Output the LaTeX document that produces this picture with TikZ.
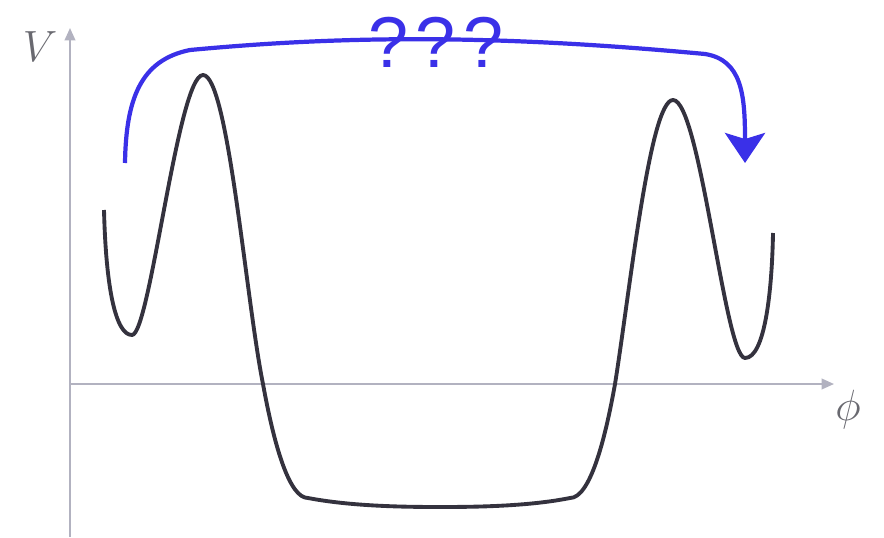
\documentclass[tikz,border=0pt]{standalone}
\usepackage{fontspec}
\usepackage{tikz}
\usetikzlibrary{arrows.meta,positioning}
\newfontfamily\qfont{Liberation Sans}
\definecolor{axisgray}{RGB}{178,178,192}
\definecolor{curvedark}{RGB}{52,50,62}
\definecolor{qblue}{RGB}{58,48,232}
\definecolor{labelgray}{RGB}{105,105,112}

\begin{document}
\begin{tikzpicture}[x=0.02cm,y=-0.02cm,
  axis/.style={draw=axisgray, line width=1.1pt, -{Triangle[length=7pt,width=6pt]}},
  curve/.style={draw=curvedark, line width=2.2pt, line join=round},
  arr/.style={draw=qblue, line width=2.4pt, -{Stealth[length=0.6cm,width=0.8cm,inset=0.12cm]}},
  lbl/.style={text=labelgray, inner sep=0pt},
  quest/.style={text=qblue, inner sep=0pt, font=\qfont\fontsize{41}{41}\selectfont}
]
\useasboundingbox (0,0) rectangle (884,537);

% axes
\coordinate (O)    at (70,384);
\coordinate (ybot) at (70,537);
\coordinate (ytop) at (70,28);
\coordinate (xend) at (834,384);
\draw[axis] (ybot) -- (ytop);
\draw[axis] (O) -- (xend);
\node[lbl, font=\fontsize{27}{27}\selectfont] (vlab)   at (40,47)  {$V$};
\node[lbl, font=\fontsize{30}{30}\selectfont] (philab) at (848,410) {$\phi$};

% potential
\draw[curve] (104,210) .. controls (106,290) and (116,335) .. (132,335)
  .. controls (150,335) and (178,75) .. (203,75)
  .. controls (228,75) and (246,300) .. (263,384)
  .. controls (275,450) and (290,498) .. (308,498)
  .. controls (350,506) and (400,507) .. (440,507)
  .. controls (480,507) and (530,506) .. (570,498)
  .. controls (590,498) and (605,440) .. (615,384)
  .. controls (630,290) and (650,100) .. (673,100)
  .. controls (700,100) and (725,358) .. (745,358)
  .. controls (765,358) and (772,290) .. (773,233);

% tunnelling arrow
\coordinate (from) at (125,163);
\coordinate (to)   at (745,163);
\draw[arr] (from) .. controls (126,100) and (140,60) .. (190,50)
  .. controls (350,35) and (500,35) .. (705,54)
  .. controls (742,60) and (745,95) .. (to);
\node[quest] (q) at (436,42) {?\kern4pt?\kern4pt?};
\end{tikzpicture}
\end{document}
